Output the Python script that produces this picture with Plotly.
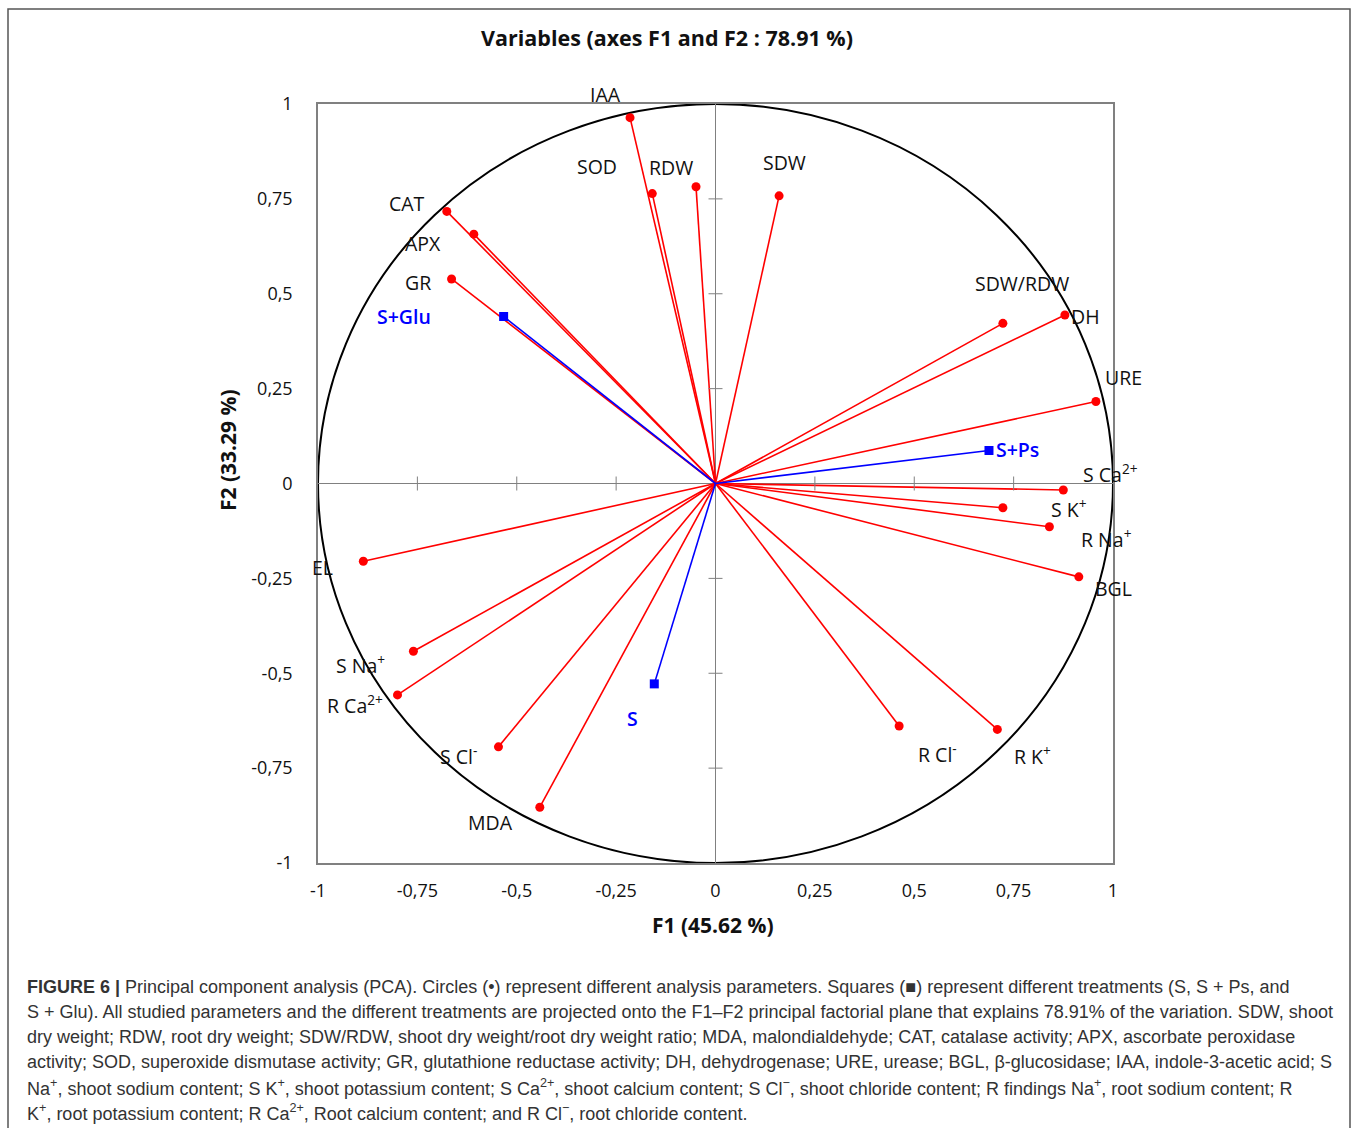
import plotly.graph_objects as go

# ---------------- data ----------------
var_names = ["IAA", "SOD", "RDW", "SDW", "CAT", "APX", "GR", "SDW/RDW", "DH", "URE",
             "S Ca<sup>2+</sup>", "S K<sup>+</sup>", "R Na<sup>+</sup>", "BGL", "EL",
             "S Na<sup>+</sup>", "R Ca<sup>2+</sup>", "S Cl<sup>-</sup>", "MDA",
             "R Cl<sup>-</sup>", "R K<sup>+</sup>"]
var_f1 = [-0.215, -0.159, -0.049, 0.160, -0.676, -0.608, -0.664, 0.723, 0.879, 0.957,
          0.875, 0.723, 0.840, 0.914, -0.886, -0.760, -0.800, -0.546, -0.442, 0.462, 0.709]
var_f2 = [0.964, 0.764, 0.782, 0.758, 0.717, 0.657, 0.539, 0.422, 0.444, 0.216,
          -0.017, -0.064, -0.114, -0.246, -0.205, -0.442, -0.557, -0.694, -0.853, -0.639, -0.648]

trt_names = ["S+Glu", "S+Ps", "S"]
trt_f1 = [-0.533, 0.688, -0.154]
trt_f2 = [0.440, 0.087, -0.528]

tick_vals = [-1, -0.75, -0.5, -0.25, 0, 0.25, 0.5, 0.75, 1]
tick_text = ["-1", "-0,75", "-0,5", "-0,25", "0", "0,25", "0,5", "0,75", "1"]

# label offsets in pixels (dx right, dy up)
var_label_off = [(-25, 23), (-55, 27), (-25, 19), (5, 33), (-40, 8), (-51, -9), (-34, -4),
                 (19, 40), (21, -1), (28, 24), (47, 16), (66, -1), (57, -12), (35, -12),
                 (-41, -6), (-53, -13), (-43, -10), (-40, -9), (-49, -15), (38, -27), (35, -26)]
trt_label_off = [(-100, 0), (29, 1), (-22, -35)]

title_text = "Variables (axes F1 and F2 : 78.91 %)"
x_title = "F1 (45.62 %)"
y_title = "F2 (33.29 %)"

caption_lines = [
    "<b>FIGURE 6 |</b> Principal component analysis (PCA). Circles (•) represent different analysis parameters. Squares (■) represent different treatments (S, S + Ps, and",
    "S + Glu). All studied parameters and the different treatments are projected onto the F1–F2 principal factorial plane that explains 78.91% of the variation. SDW, shoot",
    "dry weight; RDW, root dry weight; SDW/RDW, shoot dry weight/root dry weight ratio; MDA, malondialdehyde; CAT, catalase activity; APX, ascorbate peroxidase",
    "activity; SOD, superoxide dismutase activity; GR, glutathione reductase activity; DH, dehydrogenase; URE, urease; BGL, β-glucosidase; IAA, indole-3-acetic acid; S",
    "Na<sup>+</sup>, shoot sodium content; S K<sup>+</sup>, shoot potassium content; S Ca<sup>2+</sup>, shoot calcium content; S Cl<sup>−</sup>, shoot chloride content; R findings Na<sup>+</sup>, root sodium content; R",
    "K<sup>+</sup>, root potassium content; R Ca<sup>2+</sup>, Root calcium content; and R Cl<sup>−</sup>, root chloride content.",
]

# ---------------- layout geometry ----------------
W, H = 1358, 1128
L, R, T, B = 318, 1113, 104, 863


def px(xp):
    return (xp - L) / (R - L)


def py(yp):
    return (B - yp) / (B - T)


RED = "#FF0000"
BLUE = "#0000FF"
FONT = "Open Sans"

fig = go.Figure()

# variable vectors
lx, ly = [], []
for a, b in zip(var_f1, var_f2):
    lx += [0, a, None]
    ly += [0, b, None]
fig.add_trace(go.Scatter(x=lx, y=ly, mode="lines", line=dict(color=RED, width=1.6),
                         hoverinfo="skip", showlegend=False))
fig.add_trace(go.Scatter(x=var_f1, y=var_f2, mode="markers",
                         marker=dict(color=RED, size=9, symbol="circle"),
                         text=var_names, showlegend=False))

# treatment vectors
tx, ty = [], []
for a, b in zip(trt_f1, trt_f2):
    tx += [0, a, None]
    ty += [0, b, None]
fig.add_trace(go.Scatter(x=tx, y=ty, mode="lines", line=dict(color=BLUE, width=1.6),
                         hoverinfo="skip", showlegend=False))
fig.add_trace(go.Scatter(x=trt_f1, y=trt_f2, mode="markers",
                         marker=dict(color=BLUE, size=9, symbol="square"),
                         text=trt_names, showlegend=False))

# labels
for name, a, b, (dx, dy) in zip(var_names, var_f1, var_f2, var_label_off):
    fig.add_annotation(x=a, y=b, text=name, showarrow=False, xshift=dx, yshift=dy,
                       font=dict(family=FONT, size=19.5, color="#111111"))
for name, a, b, (dx, dy) in zip(trt_names, trt_f1, trt_f2, trt_label_off):
    fig.add_annotation(x=a, y=b, text=name, showarrow=False, xshift=dx, yshift=dy,
                       font=dict(family=FONT, size=19.5, color=BLUE, weight=600))

shapes = []
# correlation circle
shapes.append(dict(type="circle", xref="x", yref="y", x0=-1, y0=-1, x1=1, y1=1,
                   line=dict(color="black", width=2), layer="below"))
# tick marks on the central axes
for t in tick_vals:
    if t in (0, -1, 1):
        continue
    shapes.append(dict(type="line", xref="x", yref="y", xsizemode="pixel", xanchor=0,
                       x0=-7, x1=7, y0=t, y1=t, line=dict(color="#808080", width=1)))
    shapes.append(dict(type="line", xref="x", yref="y", ysizemode="pixel", yanchor=0,
                       y0=-7, y1=7, x0=t, x1=t, line=dict(color="#808080", width=1)))
# outer figure frame
shapes.append(dict(type="rect", xref="paper", yref="paper", x0=px(8), x1=px(1350),
                   y0=py(9), y1=py(1140), line=dict(color="#555555", width=1.5)))

fig.update_layout(
    width=W, height=H,
    margin=dict(l=L, r=W - R, t=T, b=H - B),
    paper_bgcolor="white", plot_bgcolor="white",
    shapes=shapes,
    showlegend=False,
    xaxis=dict(range=[-1, 1], showgrid=False, zeroline=True, zerolinecolor="#808080",
               zerolinewidth=1, showline=True, mirror=True, linecolor="#808080", linewidth=1.5,
               tickvals=tick_vals, ticktext=tick_text, ticks="", ticklabelstandoff=11,
               tickfont=dict(family=FONT, size=18, color="#111111")),
    yaxis=dict(range=[-1, 1], showgrid=False, zeroline=True, zerolinecolor="#808080",
               zerolinewidth=1, showline=True, mirror=True, linecolor="#808080", linewidth=1.5,
               tickvals=tick_vals, ticktext=tick_text, ticks="", ticklabelstandoff=20,
               tickfont=dict(family=FONT, size=18, color="#111111")),
)

# titles
fig.add_annotation(xref="paper", yref="paper", x=px(667), y=py(37), yanchor="middle",
                   text="<b>" + title_text + "</b>",
                   showarrow=False, font=dict(family=FONT, size=21.5, color="#111111"))
fig.add_annotation(xref="paper", yref="paper", x=px(713), y=py(925), yanchor="middle",
                   text="<b>" + x_title + "</b>",
                   showarrow=False, font=dict(family=FONT, size=21, color="#111111"))
fig.add_annotation(xref="paper", yref="paper", x=px(228), y=py(450), xanchor="center",
                   yanchor="middle", text="<b>" + y_title + "</b>",
                   showarrow=False, textangle=-90, font=dict(family=FONT, size=21, color="#111111"))

# caption
for i, line in enumerate(caption_lines):
    fig.add_annotation(xref="paper", yref="paper", x=px(25), y=py(987 + 25 * i), text=line,
                       xanchor="left", yanchor="middle", showarrow=False, align="left",
                       font=dict(family="Liberation Sans", size=18, color="#333333"))

fig.write_html("out.html")
